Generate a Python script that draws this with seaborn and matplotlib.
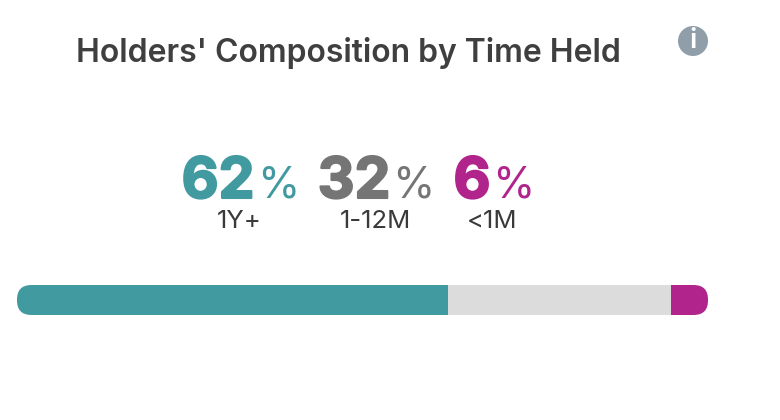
import matplotlib
matplotlib.use("Agg")
import matplotlib.pyplot as plt
from matplotlib.patches import FancyBboxPatch, Circle
import matplotlib.patheffects as pe
import pandas as pd
import seaborn as sns

title = "Holders' Composition by Time Held"
groups = ["1Y+", "1-12M", "<1M"]
percents = [62, 32, 6]
bar_shares = [62.4, 32.3, 5.3]
bar_colors = ["#429aa1", "#dcdcdc", "#b1248c"]
text_colors = ["#429aa1", "#757575", "#b1248c"]

W, H = 780, 420

sns.set_theme(style="white")
plt.rcParams["font.family"] = ["Inter", "DejaVu Sans"]

fig = plt.figure(figsize=(W / 100, H / 100), dpi=100)
ax = fig.add_axes([17 / W, (H - 315) / H, 691 / W, 30 / H])

# stacked bar, one seaborn call per segment
left = 0
clip = FancyBboxPatch((0.0, 0.0), 1, 1, boxstyle="round,pad=0,rounding_size=0.021",
                      mutation_aspect=691 / 30, transform=ax.transAxes,
                      fc="none", ec="none")
ax.add_patch(clip)
for g, share, col in zip(groups, bar_shares, bar_colors):
    df = pd.DataFrame({"share": [share], "row": ["all"]})
    sns.barplot(data=df, x="share", y="row", color=col, saturation=1, width=1,
                left=left, ax=ax, linewidth=0)
    left += share
for p in ax.patches:
    p.set_clip_path(clip)
ax.set_xlim(0, 100)
ax.set_ylim(0.5, -0.5)
ax.axis("off")


def px(x, y):
    return x / W, 1 - y / H


fig.text(*px(348, 53), title, ha="center", va="center", fontsize=23,
         fontweight="semibold", color="#3f3f3f")

# big number, percent sign, label underneath
num_x = [218, 354, 472]
pct_x = [278, 413, 513]
label_x = [239, 375, 492]
for i, g in enumerate(groups):
    num = fig.text(*px(num_x[i], 183), str(percents[i]), ha="center", va="center",
                   fontsize=41, fontweight="bold", color=text_colors[i])
    num.set_path_effects([pe.withStroke(linewidth=1.5, foreground=text_colors[i])])
    fig.text(*px(pct_x[i], 186), "%", ha="center", va="center", fontsize=31,
             fontweight="normal", color=text_colors[i])
    fig.text(*px(label_x[i], 222), g, ha="center", va="center", fontsize=18.5,
             color="#3a3a3a")

# info icon
bg = fig.add_axes([0, 0, 1, 1], zorder=-1)
bg.set_xlim(0, W)
bg.set_ylim(H, 0)
bg.axis("off")
bg.add_patch(Circle((693, 41), 15, fc="#8f9ea8", ec="none"))
bg.text(693, 41, "i", ha="center", va="center", fontsize=20, fontweight="semibold",
        color="white")

fig.savefig("out.png", dpi=100)
